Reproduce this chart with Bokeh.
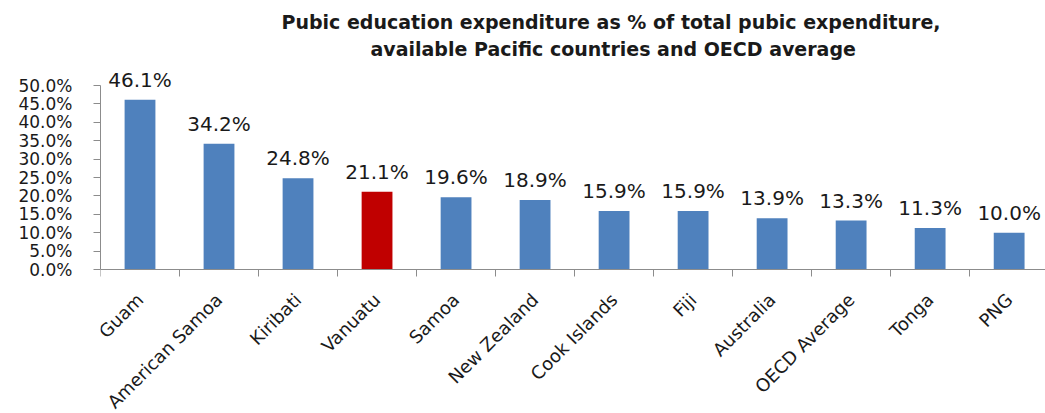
import math
import numpy as np
from bokeh.plotting import figure
from bokeh.models import Range1d, FixedTicker, ColumnDataSource, Title, LabelSet
from bokeh.core.properties import value
from bokeh.embed import file_html
from bokeh.resources import INLINE

# ---- data ----
categories = ["Guam", "American Samoa", "Kiribati", "Vanuatu", "Samoa", "New Zealand",
              "Cook Islands", "Fiji", "Australia", "OECD Average", "Tonga", "PNG"]
values = [46.1, 34.2, 24.8, 21.1, 19.6, 18.9, 15.9, 15.9, 13.9, 13.3, 11.3, 10.0]
highlight = "Vanuatu"
y_ticks = [0, 5, 10, 15, 20, 25, 30, 35, 40, 45, 50]
y_tick_labels = ["0.0%", "5.0%", "10.0%", "15.0%", "20.0%", "25.0%", "30.0%",
                 "35.0%", "40.0%", "45.0%", "50.0%"]
title_line1 = "Pubic education expenditure as % of total pubic expenditure,"
title_line2 = "available Pacific countries and OECD average"

BLUE = "#4F81BD"
RED = "#C00000"
AXIS = "#8C8C8C"
TXT = "#1a1a1a"

idx = list(range(len(categories)))
src = ColumnDataSource(dict(
    x=idx,
    top=values,
    color=[RED if c == highlight else BLUE for c in categories],
    label=[f"{v:.1f}%" for v in values],
))

# frame spans from below the title down to the canvas bottom; the zero line sits
# inside it so the rotated category labels can hang below the bars
p = figure(width=1045, height=413, output_backend="svg", toolbar_location=None,
           x_range=Range1d(-0.5, 11.46), y_range=Range1d(-39.13, 56.25),
           min_border_left=100, min_border_right=0, min_border_bottom=0,
           min_border_top=62)
p.outline_line_color = None
p.grid.visible = False
p.background_fill_color = "white"
p.border_fill_color = "white"

p.vbar(x="x", top="top", width=0.39, color="color", source=src, line_color=None)

p.add_layout(LabelSet(x="x", y="top", text="label", source=src, text_align="center",
                      text_baseline="alphabetic", y_offset=13,
                      text_font=value("DejaVu Sans"), text_font_size="20px",
                      text_color=TXT))

# y axis
ya = p.yaxis[0]
ya.ticker = FixedTicker(ticks=y_ticks, minor_ticks=[])
ya.major_label_overrides = {t: l for t, l in zip(y_ticks, y_tick_labels)}
ya.bounds = (y_ticks[0], y_ticks[-1])
ya.axis_line_color = AXIS
ya.major_tick_line_color = AXIS
ya.major_tick_out = 7
ya.major_tick_in = 0
ya.minor_tick_line_color = None
ya.major_label_standoff = 21
ya.major_label_text_font = "DejaVu Sans"
ya.major_label_text_font_size = "17px"
ya.major_label_text_color = TXT

# x axis at zero: labels at category centres, ticks at category boundaries
xa = p.xaxis[0]
xa.fixed_location = 0
xa.ticker = FixedTicker(ticks=idx, minor_ticks=[i - 0.5 for i in idx])
xa.major_label_overrides = {i: c for i, c in zip(idx, categories)}
xa.axis_line_color = AXIS
xa.major_tick_line_color = None
xa.major_tick_out = 0
xa.major_tick_in = 0
xa.minor_tick_line_color = AXIS
xa.minor_tick_out = 7
xa.minor_tick_in = 0
xa.major_label_orientation = math.pi / 4
xa.major_label_standoff = 20
xa.major_label_text_font = "DejaVu Sans"
xa.major_label_text_font_size = "18px"
xa.major_label_text_color = TXT

t2 = Title(text=title_line2, align="left", offset=270, text_font="DejaVu Sans",
           text_font_style="bold", text_font_size="19px", text_color=TXT,
           standoff=6)
t1 = Title(text=title_line1, align="left", offset=181, text_font="DejaVu Sans",
           text_font_style="bold", text_font_size="19px", text_color=TXT,
           standoff=0)
p.add_layout(t2, "above")
p.add_layout(t1, "above")

open("out.html", "w").write(file_html(p, INLINE))
